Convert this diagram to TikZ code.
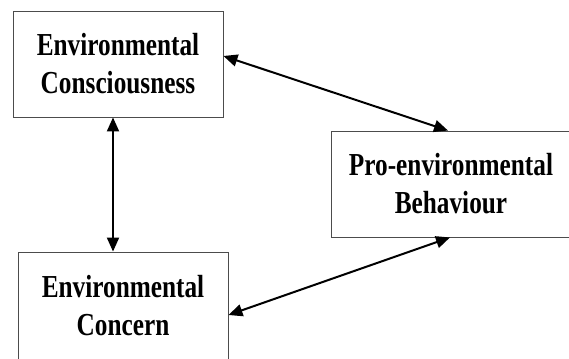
\documentclass[tikz,border=0pt]{standalone}
\usepackage{fontspec}
\setmainfont{Liberation Serif}[FakeStretch=0.79]
\usetikzlibrary{positioning,arrows.meta}
\tikzset{main node/.style={rectangle,draw=black!70,line width=0.9pt,minimum width=210pt,minimum height=106pt,align=center,inner sep=0pt,font=\fontsize{32}{38}\selectfont\bfseries}}
\tikzset{link/.style={{Triangle[length=14pt,width=12pt]}-{Triangle[length=14pt,width=12pt]},line width=2pt}}

\begin{document}
\begin{tikzpicture}[x=1pt,y=1pt]
            \useasboundingbox (0,0) rectangle (569,358);
            \clip (0,0) rectangle (569,358);

            \node[main node] (EC) at (118,294) {Environmental\\Consciousness};
            \node[main node, minimum width=240pt] (PB) at (451,174) {Pro-environmental\\Behaviour};
            \node[main node, minimum height=107pt] (ECn) at (123,52.5) {Environmental\\Concern};

            \path
            ([yshift=8pt]EC.east) edge[link] ([xshift=-3pt]PB.north)
            ([xshift=-5pt]EC.south) edge[link] ([xshift=-10pt]ECn.north)
            ([yshift=-9.5pt]ECn.east) edge[link] ([xshift=-1pt]PB.south);
        \end{tikzpicture}
\end{document}
